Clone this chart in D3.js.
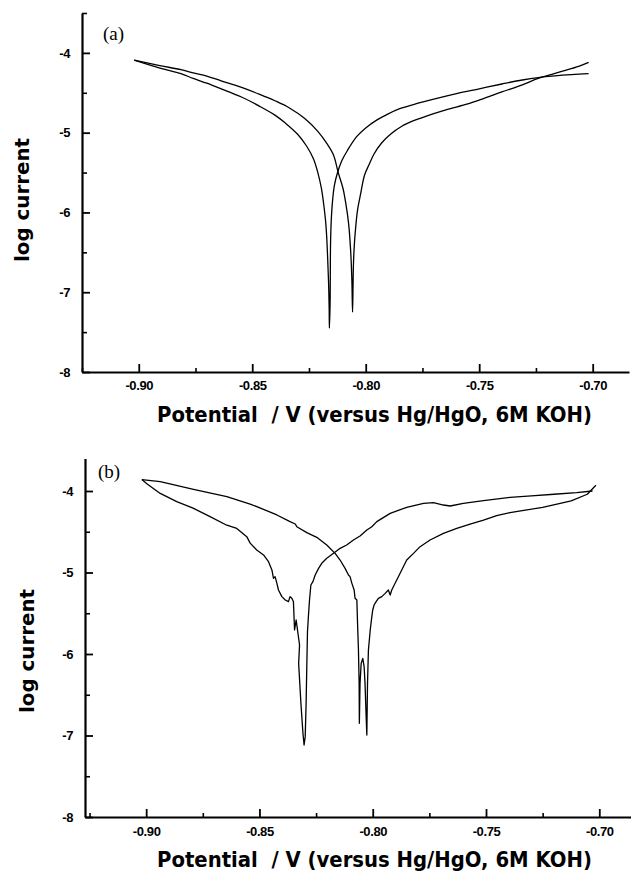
<!DOCTYPE html>
<html>
<head>
<meta charset="utf-8">
<script src="https://cdn.jsdelivr.net/npm/d3@7"></script>
<style>
  html, body { margin: 0; padding: 0; background: #fff; }
  svg { display: block; }
  .tick text { font-family: "Liberation Sans", Arial, sans-serif; font-weight: bold; font-size: 13px; fill: #000; letter-spacing: -0.4px; }
  .axis-title { font-family: "DejaVu Sans", sans-serif; font-weight: bold; fill: #000; white-space: pre; }
  .panel-label { font-family: "Liberation Serif", "Times New Roman", serif; font-size: 19px; fill: #000; }
</style>
</head>
<body>
<div id="chart"></div>
<script>
// tick values and labels
const xTicks = [-0.90, -0.85, -0.80, -0.75, -0.70];
const xMinor = [-0.925, -0.875, -0.825, -0.775, -0.725];
const yTicks = [-4, -5, -6, -7, -8];
const yMinorA = [-3.5, -4.5, -5.5, -6.5, -7.5];
const yMinorB = [-4.5, -5.5, -6.5, -7.5];
const xTitle = 'Potential  / V (versus Hg/HgO, 6M KOH)';
const yTitle = 'log current';

// panel (a): [potential V, log current]
const curveA1 = [
  [-0.9020, -4.09], [-0.8907, -4.19], [-0.8814, -4.26], [-0.8760, -4.32], [-0.8700, -4.38],
  [-0.8637, -4.45], [-0.8550, -4.55], [-0.8467, -4.67], [-0.8400, -4.78], [-0.8354, -4.88],
  [-0.8300, -5.02], [-0.8260, -5.17], [-0.8230, -5.33], [-0.8211, -5.50], [-0.8195, -5.70],
  [-0.8185, -5.90], [-0.8177, -6.10], [-0.8172, -6.30], [-0.8168, -6.55], [-0.8164, -6.85],
  [-0.8161, -7.20], [-0.8160, -7.45], [-0.8157, -7.15], [-0.8156, -6.80], [-0.8155, -6.40],
  [-0.8151, -6.05], [-0.8145, -5.82], [-0.8138, -5.66], [-0.8124, -5.50], [-0.8105, -5.35],
  [-0.8080, -5.22], [-0.8040, -5.05], [-0.8000, -4.94], [-0.7950, -4.84], [-0.7905, -4.77],
  [-0.7850, -4.70], [-0.7780, -4.64], [-0.7700, -4.58], [-0.7600, -4.51], [-0.7500, -4.45],
  [-0.7400, -4.39], [-0.7310, -4.34], [-0.7240, -4.31], [-0.7133, -4.28], [-0.7060, -4.265],
  [-0.7018, -4.26]
];
const curveA2 = [
  [-0.9020, -4.09], [-0.8907, -4.16], [-0.8814, -4.21], [-0.8760, -4.25], [-0.8700, -4.29],
  [-0.8637, -4.35], [-0.8550, -4.43], [-0.8467, -4.52], [-0.8400, -4.60], [-0.8336, -4.69],
  [-0.8270, -4.82], [-0.8212, -4.98], [-0.8170, -5.14], [-0.8142, -5.28], [-0.8121, -5.50],
  [-0.8100, -5.70], [-0.8087, -5.90], [-0.8075, -6.15], [-0.8066, -6.50], [-0.8061, -6.85],
  [-0.8058, -7.25], [-0.8056, -6.95], [-0.8054, -6.65], [-0.8050, -6.40], [-0.8044, -6.18],
  [-0.8036, -5.97], [-0.8022, -5.76], [-0.8005, -5.53], [-0.7985, -5.40], [-0.7964, -5.27],
  [-0.7930, -5.13], [-0.7891, -5.02], [-0.7841, -4.92], [-0.7789, -4.85], [-0.7700, -4.76],
  [-0.7643, -4.71], [-0.7550, -4.64], [-0.7487, -4.58], [-0.7400, -4.49], [-0.7310, -4.40],
  [-0.7240, -4.32], [-0.7180, -4.27], [-0.7133, -4.23], [-0.7062, -4.17], [-0.7018, -4.12]
];

// panel (b): [potential V, log current]
const curveB1 = [
  [-0.9019, -3.86], [-0.8997, -3.91], [-0.8938, -4.03], [-0.8865, -4.13], [-0.8793, -4.21],
  [-0.8718, -4.315], [-0.8644, -4.42], [-0.8600, -4.46], [-0.8556, -4.56], [-0.8541, -4.64],
  [-0.8512, -4.724], [-0.8482, -4.785], [-0.8460, -4.867], [-0.8445, -4.969], [-0.8438, -5.071],
  [-0.8431, -5.051], [-0.8423, -5.133], [-0.8416, -5.215], [-0.8401, -5.296], [-0.8386, -5.337],
  [-0.8372, -5.358], [-0.8365, -5.296], [-0.8357, -5.317], [-0.8350, -5.358], [-0.8345, -5.705],
  [-0.8338, -5.583], [-0.8323, -5.890], [-0.8327, -6.115], [-0.8317, -6.605], [-0.8308, -6.973],
  [-0.8303, -7.117], [-0.8298, -7.014], [-0.8294, -6.605], [-0.8291, -6.155], [-0.8288, -5.726],
  [-0.8284, -5.542], [-0.8279, -5.337], [-0.8273, -5.153], [-0.8264, -5.112], [-0.8254, -5.031],
  [-0.8239, -4.949], [-0.8225, -4.887], [-0.8203, -4.826], [-0.8173, -4.765], [-0.8144, -4.703],
  [-0.8115, -4.663], [-0.8085, -4.601], [-0.8056, -4.552], [-0.8026, -4.478], [-0.8004, -4.438],
  [-0.7982, -4.376], [-0.7923, -4.274], [-0.7850, -4.200], [-0.7776, -4.151], [-0.7732, -4.143],
  [-0.7688, -4.172], [-0.7658, -4.184], [-0.7600, -4.151], [-0.7511, -4.119], [-0.7394, -4.078],
  [-0.7300, -4.06], [-0.7200, -4.04], [-0.7100, -4.02], [-0.7030, -4.00]
];
const curveB2 = [
  [-0.9019, -3.86], [-0.8938, -3.886], [-0.8791, -3.98], [-0.8644, -4.07], [-0.8541, -4.16],
  [-0.8482, -4.225], [-0.8423, -4.294], [-0.8365, -4.376], [-0.8342, -4.405], [-0.8335, -4.438],
  [-0.8291, -4.511], [-0.8247, -4.568], [-0.8203, -4.663], [-0.8166, -4.765], [-0.8144, -4.847],
  [-0.8122, -4.949], [-0.8107, -5.031], [-0.8100, -5.051], [-0.8092, -5.133], [-0.8082, -5.215],
  [-0.8078, -5.317], [-0.8070, -5.337], [-0.8067, -5.624], [-0.8063, -5.951], [-0.8060, -6.360],
  [-0.8059, -6.851], [-0.8056, -6.360], [-0.8051, -6.115], [-0.8044, -6.053], [-0.8038, -6.155],
  [-0.8034, -6.360], [-0.8029, -6.769], [-0.8026, -6.994], [-0.8023, -6.360], [-0.8019, -5.951],
  [-0.8011, -5.705], [-0.8004, -5.542], [-0.8000, -5.460], [-0.7994, -5.399], [-0.7985, -5.358],
  [-0.7975, -5.317], [-0.7960, -5.296], [-0.7945, -5.256], [-0.7931, -5.215], [-0.7923, -5.276],
  [-0.7916, -5.215], [-0.7909, -5.174], [-0.7894, -5.092], [-0.7872, -4.969], [-0.7850, -4.847],
  [-0.7820, -4.765], [-0.7791, -4.683], [-0.7747, -4.601], [-0.7688, -4.519], [-0.7629, -4.458],
  [-0.7570, -4.405], [-0.7511, -4.356], [-0.7453, -4.303], [-0.7394, -4.266], [-0.7250, -4.20],
  [-0.7124, -4.12], [-0.7053, -4.04], [-0.7015, -3.93]
];

const W = 631, H = 871;
const svg = d3.select('#chart').append('svg').attr('width', W).attr('height', H);

// panel layouts
const panels = [
  { label: '(a)', curves: [curveA1, curveA2], smooth: true,
    xDomain: [-0.925, -0.684], xRange: [82, 629],
    yDomain: [-8, -3.5], yRange: [372, 13], yMinor: yMinorA,
    labelPos: [103, 40], xPad: 9, yPad: 12, xTitleY: 422, yTitlePos: [29, 200] },
  { label: '(b)', curves: [curveB1, curveB2], smooth: false,
    xDomain: [-0.927, -0.686], xRange: [85, 631],
    yDomain: [-8, -3.6], yRange: [817, 458.4], yMinor: yMinorB,
    labelPos: [98, 478], xPad: 10, yPad: 12, xTitleY: 867, yTitlePos: [34, 651] }
];

panels.forEach(p => {
  const x = d3.scaleLinear().domain(p.xDomain).range(p.xRange);
  const y = d3.scaleLinear().domain(p.yDomain).range(p.yRange);
  const g = svg.append('g');
  const y0 = p.yRange[0], x0 = p.xRange[0];

  // minor ticks
  g.append('g').attr('transform', `translate(0,${y0})`)
    .call(d3.axisBottom(x).tickValues(xMinor).tickSizeInner(-4).tickSizeOuter(0).tickFormat(''))
    .call(a => a.select('.domain').remove())
    .call(a => a.selectAll('.tick line').attr('stroke', '#000').attr('stroke-width', 1.6));
  g.append('g').attr('transform', `translate(${x0},0)`)
    .call(d3.axisLeft(y).tickValues(p.yMinor).tickSizeInner(-5).tickSizeOuter(0).tickFormat(''))
    .call(a => a.select('.domain').remove())
    .call(a => a.selectAll('.tick line').attr('stroke', '#000').attr('stroke-width', 1.6));

  // x axis
  g.append('g').attr('transform', `translate(0,${y0})`)
    .call(d3.axisBottom(x).tickValues(xTicks).tickSizeInner(-8).tickSizeOuter(0)
      .tickPadding(p.xPad).tickFormat(d => d3.format('.2f')(d).replace('−', '-')))
    .call(a => a.select('.domain').attr('stroke', '#000').attr('stroke-width', 2.2))
    .call(a => a.selectAll('.tick line').attr('stroke', '#000').attr('stroke-width', 1.8));

  // y axis
  g.append('g').attr('transform', `translate(${x0},0)`)
    .call(d3.axisLeft(y).tickValues(yTicks).tickSizeInner(-8).tickSizeOuter(0)
      .tickPadding(p.yPad).tickFormat(d => String(d).replace('−', '-')))
    .call(a => a.select('.domain').attr('stroke', '#000').attr('stroke-width', 2.2))
    .call(a => a.selectAll('.tick line').attr('stroke', '#000').attr('stroke-width', 1.8));

  // curves
  const line = d3.line()
    .x(d => x(d[0])).y(d => y(d[1]))
    .curve(p.smooth ? d3.curveCatmullRom.alpha(0.5) : d3.curveLinear);
  g.selectAll('.curve').data(p.curves).join('path')
    .attr('class', 'curve')
    .attr('d', line)
    .attr('fill', 'none')
    .attr('stroke', '#000')
    .attr('stroke-width', 1.3)
    .attr('stroke-linejoin', 'round');

  // panel label
  g.append('text').attr('class', 'panel-label')
    .attr('x', p.labelPos[0]).attr('y', p.labelPos[1]).text(p.label);

  // axis titles
  g.append('text').attr('class', 'axis-title')
    .attr('x', 374.5).attr('y', p.xTitleY)
    .attr('text-anchor', 'middle')
    .attr('font-size', 21)
    .attr('textLength', 435).attr('lengthAdjust', 'spacingAndGlyphs')
    .text(xTitle);
  g.append('text').attr('class', 'axis-title')
    .attr('transform', `translate(${p.yTitlePos[0]},${p.yTitlePos[1]}) rotate(-90)`)
    .attr('text-anchor', 'middle')
    .attr('font-size', 20)
    .attr('textLength', 124).attr('lengthAdjust', 'spacingAndGlyphs')
    .text(yTitle);
});
</script>
</body>
</html>
